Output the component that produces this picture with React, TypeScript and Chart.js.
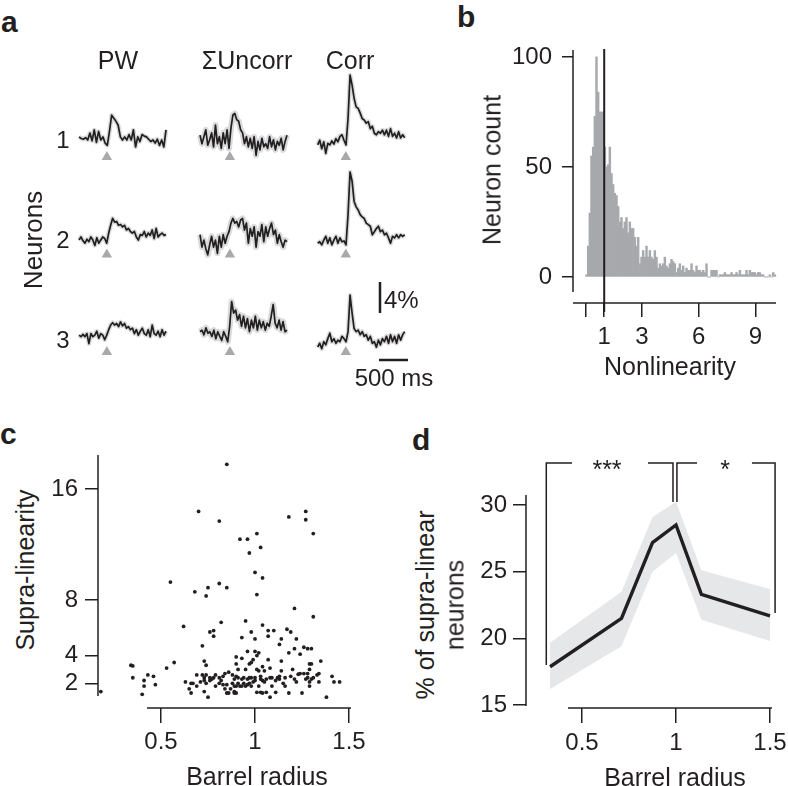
import React, { useEffect, useRef } from "react";
import { Chart, registerables } from "chart.js";

Chart.register(...registerables);

const FONT = '"Liberation Sans", Arial, Helvetica, sans-serif';
const INK = "#231f20";
const GREY_BAR = "#a7a9ac";
const GREY_SEM = "#d9dadc";
const GREY_TRI = "#a7a9ac";
const GREY_BAND = "#e6e7e8";

// ---------------- Panel a : example traces (dF/F, %) ----------------
const traceColumns = ["PW", "ΣUncorr", "Corr"];
const neuronRows = ["1", "2", "3"];
const traceDurationMs = 1500;
const stimulusOnsetMs = [480, 515, 485];
const scaleBarPercent = 4;
const scaleBarMs = 500;

const pw1 = [0.4, 0.2, 0.1, 0.3, 0.0, 0.9, -0.1, 1.3, -0.3, 1.1, 0.0, 0.4, -0.4, -0.7, 1.1, 3.2, 2.8, 2.4, 1.9, 0.4, 0.0, 0.4, 0.0, 0.7, 0.0, 1.3, -0.9, 0.4, -0.2, 0.7, 0.5, 0.4, 0.1, -0.2, 0.0, -0.4, 0.1, -0.7, 0.0, -0.9, 1.3];
const uncorr1 = [0.4, -0.7, 0.2, 1.1, -0.9, -0.2, 0.7, -1.1, 1.7, -0.7, 0.2, -1.3, 0.7, -0.7, 1.1, -1.3, 1.3, 3.0, 3.2, 2.4, 2.2, 1.1, 0.7, -0.7, 0.2, -1.1, 0.0, -1.3, 0.2, -2.2, -0.4, -1.5, 0.0, -1.1, -0.7, -1.3, 0.2, -1.1, -0.2, -1.5, -0.4, -0.9, 0.0, -1.5, -0.4, 0.4];
const corr1 = [-0.2, 0.4, -0.7, 0.2, -1.3, 0.0, -0.2, 0.3, -0.1, 0.6, 0.2, 0.9, 1.1, 0.4, -0.2, 3.2, 8.8, 7.5, 5.8, 4.7, 4.5, 3.9, 3.2, 3.0, 2.6, 2.8, 1.9, 2.2, 1.3, 1.1, 1.5, 1.3, 1.7, 1.1, 1.7, 0.9, 1.9, 0.9, 1.3, 0.7, 1.5, 0.7, 1.1, 0.7];
const pw2 = [0.0, 0.4, -0.1, -0.4, 0.1, -0.2, 0.4, 0.0, -0.7, 0.3, -0.4, 0.0, 0.4, 0.2, -0.4, 0.9, 1.9, 2.8, 2.3, 2.4, 1.9, 2.0, 1.7, 1.9, 1.3, 1.5, 1.1, 0.9, 1.1, 0.4, 0.0, 0.7, 0.6, 1.1, 0.4, 0.9, 0.6, 1.3, 0.2, 1.5, 0.4, 0.7, 0.9, 0.6, 0.7];
const uncorr2 = [0.9, -0.7, 0.2, -0.9, -1.7, -0.4, 0.7, -0.7, 0.2, -1.5, 0.7, -0.7, 0.9, -0.2, 0.7, 1.3, 2.4, 3.0, 2.4, 2.6, 1.9, 2.8, 3.0, 1.5, 2.4, -0.2, 1.7, 0.7, 1.9, -0.7, 1.3, 0.7, 2.2, 0.0, 1.9, 0.7, 1.7, 2.4, 0.9, 1.5, -0.2, 0.9, 0.0, -0.7, 0.2, 0.0];
const corr2 = [0.0, 0.2, -0.2, 0.4, 0.9, 0.0, 0.7, -0.2, 0.4, 0.9, 0.0, 0.7, 0.2, 0.3, -0.2, 3.7, 9.2, 8.0, 5.4, 4.7, 4.3, 3.7, 3.4, 3.2, 2.6, 2.4, 2.2, 1.1, 1.5, 1.9, 2.2, 1.5, 1.7, 1.1, 1.3, 0.7, 0.0, 0.9, 0.7, 1.1, 0.7, 1.1, 0.9, 1.1];
const pw3 = [0.2, 0.0, 0.3, 0.0, 0.4, -0.9, 0.4, 0.0, 0.2, 0.7, -0.2, 0.4, 0.2, -0.4, 0.2, 0.9, 1.5, 1.8, 1.5, 1.7, 1.3, 1.9, 1.4, 1.7, 1.1, 1.3, 0.9, 1.1, 0.4, 0.9, 0.2, 0.7, 1.1, 0.4, 0.2, 0.9, 0.0, 1.5, 0.4, 0.2, 0.7, 0.0, 0.9, 0.2, 0.7];
const uncorr3 = [0.2, 0.4, -0.2, 0.7, 0.0, 0.2, -0.4, 0.4, -0.7, 0.2, -0.4, -0.9, 0.2, -0.4, -1.1, 0.9, 4.1, 2.6, 3.0, 1.7, 2.4, 0.9, 2.2, 0.7, 1.9, 0.2, 1.7, 0.7, 2.2, 0.4, 1.7, 0.7, 1.5, 0.4, 1.3, 0.9, 2.2, 3.7, 1.3, 0.7, 1.7, 0.4, 1.5, 0.2, 0.4];
const corr3 = [-0.7, -0.2, -0.9, 0.0, -0.4, 0.4, 1.1, 0.0, 0.4, -0.2, 0.2, 0.0, 0.7, 0.4, 0.0, 1.3, 6.0, 3.7, 1.7, 1.3, 1.5, 0.9, 1.3, 0.7, 0.9, 0.2, 0.7, -0.2, 0.0, -0.7, 0.2, -0.4, 0.4, 0.0, 0.7, -0.2, 0.9, 0.0, 0.7, -0.2, 0.9, 0.2, 0.9, 1.3];
const tracesByRow = [
  [pw1, uncorr1, corr1],
  [pw2, uncorr2, corr2],
  [pw3, uncorr3, corr3],
];

// ---------------- Panel b : histogram of nonlinearity ----------------
const histBinStart = 0.019;
const histBinWidth = 0.0882;
const histCounts = [1, 14, 29, 55, 59, 73, 100, 84, 75, 75, 75, 59, 50, 51, 59, 47, 42, 38, 37, 32, 25, 27, 22, 25, 27, 20, 25, 22, 22, 18, 14, 18, 6, 9, 12, 9, 14, 9, 12, 9, 8, 12, 9, 4, 6, 5, 6, 9, 5, 4, 6, 8, 7, 6, 2, 4, 6, 3, 5, 2, 4, 3, 3, 6, 3, 2, 5, 3, 3, 2, 3, 2, 6, 0, 0, 3, 3, 3, 3, 0, 1, 1, 1, 2, 1, 1, 1, 2, 1, 1, 2, 1, 3, 1, 1, 1, 3, 1, 3, 2, 2, 2, 1, 2, 2, 1, 1, 0, 0, 0, 1, 0, 2, 1];
const linearityThreshold = 1;
const bYTicks = [0, 50, 100];
const bXTicks = [0, 1, 3, 6, 9];

// ---------------- Panel c : supra-linearity vs barrel radius ----------------
const cRadius = [0.85, 0.70, 1.18, 1.27, 1.27, 0.81, 1.31, 0.92, 0.96, 1.01, 0.97, 1.03, 1.00, 1.04, 0.55, 0.81, 0.85, 0.75, 0.68, 0.74, 1.01, 1.21, 1.31, 0.82, 0.95, 0.62, 1.04, 0.76, 0.78, 0.78, 0.98, 0.93, 1.00, 1.07, 1.10, 1.07, 1.17, 1.19, 1.14, 1.22, 0.72, 1.13, 1.26, 1.28, 1.30, 1.21, 1.18, 1.24, 0.96, 1.00, 1.02, 1.01, 0.93, 0.90, 0.99, 1.07, 1.14, 0.98, 0.97, 1.35, 0.73, 0.74, 0.57, 0.53, 0.34, 0.35, 0.35, 0.43, 0.46, 0.41, 0.41, 0.47, 0.40, 0.18, 0.90, 0.91, 0.95, 1.01, 1.02, 1.04, 1.05, 1.08, 1.14, 1.20, 1.29, 1.30, 1.29, 1.28, 1.26, 1.23, 1.19, 1.16, 1.13, 1.12, 1.11, 1.09, 1.08, 1.06, 1.04, 1.03, 1.03, 1.00, 0.98, 0.97, 0.96, 0.94, 0.93, 0.91, 0.90, 0.89, 0.88, 0.86, 0.84, 0.83, 0.82, 0.81, 0.79, 0.78, 0.76, 0.74, 0.73, 0.72, 0.69, 0.66, 0.63, 0.65, 0.69, 0.71, 0.73, 0.74, 0.76, 0.77, 0.79, 0.81, 0.83, 0.84, 0.85, 0.87, 0.88, 0.89, 0.90, 0.89, 0.90, 0.91, 0.92, 0.93, 0.94, 0.95, 0.96, 0.97, 0.98, 0.99, 1.00, 1.02, 1.03, 1.05, 1.06, 1.08, 1.09, 1.11, 1.13, 1.15, 1.16, 1.18, 1.21, 1.22, 1.24, 1.25, 1.27, 1.28, 1.29, 1.29, 1.30, 1.31, 1.33, 1.34, 1.34, 1.38, 1.41, 1.42, 1.45, 0.75, 0.73, 0.85, 0.86, 0.89, 0.66, 0.67, 1.01, 1.04];
const cSupra = [17.8, 14.4, 14.0, 14.4, 13.8, 13.7, 12.8, 12.4, 12.4, 12.8, 11.4, 11.8, 10.0, 9.6, 9.3, 9.2, 8.9, 8.9, 8.6, 8.3, 8.4, 7.4, 6.8, 6.4, 6.5, 6.1, 6.2, 5.7, 5.8, 5.4, 5.7, 5.3, 5.2, 5.8, 5.8, 5.4, 5.9, 5.7, 5.2, 5.2, 4.7, 4.8, 4.6, 4.5, 4.5, 4.5, 4.2, 4.1, 4.3, 4.3, 4.2, 4.0, 3.8, 3.9, 3.7, 3.7, 3.6, 3.5, 3.4, 3.6, 3.6, 3.3, 3.5, 3.1, 3.3, 3.25, 2.4, 2.6, 2.5, 2.2, 1.8, 1.9, 1.2, 1.4, 3.4, 3.0, 3.0, 3.0, 2.9, 3.2, 2.9, 3.1, 2.9, 3.0, 3.4, 3.4, 3.0, 2.7, 2.7, 2.65, 2.5, 2.4, 2.5, 2.4, 2.2, 2.4, 2.4, 2.3, 2.2, 2.5, 2.3, 2.4, 2.4, 2.4, 2.3, 2.4, 2.3, 2.4, 2.5, 2.3, 2.6, 2.8, 2.7, 2.5, 2.2, 2.4, 2.6, 2.4, 2.4, 2.6, 2.4, 2.6, 2.6, 2.0, 2.1, 1.6, 1.8, 2.1, 2.2, 2.0, 2.2, 2.3, 1.8, 2.0, 1.9, 1.6, 1.9, 1.6, 2.0, 1.4, 1.3, 1.8, 1.8, 2.0, 1.8, 1.8, 2.0, 1.8, 1.9, 2.0, 1.8, 2.1, 2.2, 1.8, 1.35, 2.1, 1.35, 1.0, 1.8, 1.35, 2.3, 2.0, 1.8, 1.3, 2.3, 2.1, 2.7, 1.3, 2.3, 2.4, 2.1, 1.8, 2.3, 2.4, 2.6, 2.7, 2.1, 1.0, 2.5, 2.1, 2.1, 1.0, 1.4, 1.3, 1.3, 1.3, 1.3, 2.0, 1.35, 1.3];
const cYTicks = [2, 4, 8, 16];
const radiusTicks = [0.5, 1, 1.5];

// ---------------- Panel d : % supra-linear neurons vs barrel radius ----------------
const dRadius = [0.33, 0.71, 0.875, 1.0, 1.135, 1.5];
const dPercent = [17.87, 21.5, 27.18, 28.5, 23.3, 21.68];
const dUpper = [19.67, 23.5, 29.1, 30.25, 25.1, 23.7];
const dLower = [16.2, 19.4, 25.0, 26.4, 21.4, 19.8];
const dYTicks = [15, 20, 25, 30];
const bracketLeftX = [0.31, 0.31, 0.447, null, 0.851, 0.984, 0.984];
const bracketLeftY = [18.0, 33.15, 33.15, null, 33.15, 33.15, 30.23];
const bracketRightX = [1.005, 1.005, 1.112, null, 1.404, 1.527, 1.527];
const bracketRightY = [30.23, 33.15, 33.15, null, 33.15, 33.15, 21.9];

// ---------------- layout ----------------
type Box = { left: number; top: number; width: number; height: number };
const A_BOX: Box = { left: 60, top: 50, width: 380, height: 340 };
const A_PX_PER_MS = 0.058;
const A_PX_PER_PCT = 7.75;
const A_COL_X0 = [328, 2414, 4443];
const A_ROW_Y0 = [
  [32.26, 32.48, 31.83],
  [19.35, 19.14, 18.93],
  [6.88, 7.32, 6.23],
];
const A_TRI_Y = [30.06, 17.5, 4.9];
const A_VBAR_X = 5517;
const A_VBAR_Y = 9.94;
const A_HBAR_X = 5500;
const A_HBAR_Y = 3.87;

const B_BOX: Box = { left: 500, top: 30, width: 288, height: 350 };
const C_BOX: Box = { left: 40, top: 430, width: 360, height: 340 };
const D_BOX: Box = { left: 460, top: 430, width: 328, height: 340 };

const axisLinesPlugin = {
  id: "axisLines",
  afterDatasetsDraw(chart: any, _args: any, opts: any) {
    if (!opts) return;
    const { ctx, chartArea, scales } = chart;
    ctx.save();
    ctx.strokeStyle = INK;
    ctx.lineWidth = 1.5;
    ctx.lineCap = "butt";
    if (opts.y) {
      const x = chartArea.left;
      ctx.beginPath();
      ctx.moveTo(x, scales.y.getPixelForValue(opts.y[0]));
      ctx.lineTo(x, scales.y.getPixelForValue(opts.y[1]));
      ctx.stroke();
    }
    if (opts.x) {
      const y = chartArea.bottom;
      ctx.beginPath();
      ctx.moveTo(scales.x.getPixelForValue(opts.x[0]), y);
      ctx.lineTo(scales.x.getPixelForValue(opts.x[1]), y);
      ctx.stroke();
    }
    ctx.restore();
  },
};

function tickFont() {
  return { family: FONT, size: 24 };
}

function xAxis(min: number, max: number, ticks: number[], tickLength: number, padding: number, height: number, label?: (v: number) => string) {
  return {
    type: "linear",
    min,
    max,
    bounds: "data",
    offset: false,
    afterBuildTicks: (s: any) => {
      s.ticks = ticks.map((v) => ({ value: v }));
    },
    afterFit: (s: any) => {
      s.height = height;
      s.paddingLeft = 0;
      s.paddingRight = 0;
      s.paddingTop = 0;
      s.paddingBottom = 0;
    },
    border: { display: false },
    grid: { display: true, offset: false, drawOnChartArea: false, drawTicks: true, tickLength, color: INK, lineWidth: 1.5 },
    ticks: {
      color: INK,
      font: tickFont(),
      padding,
      maxRotation: 0,
      minRotation: 0,
      autoSkip: false,
      callback: (v: any) => (label ? label(Number(v)) : String(v)),
    },
  };
}

function yAxis(min: number, max: number, ticks: number[], tickLength: number, padding: number, width: number) {
  return {
    type: "linear",
    min,
    max,
    bounds: "data",
    offset: false,
    afterBuildTicks: (s: any) => {
      s.ticks = ticks.map((v) => ({ value: v }));
    },
    afterFit: (s: any) => {
      s.width = width;
      s.paddingLeft = 0;
      s.paddingRight = 0;
      s.paddingTop = 0;
      s.paddingBottom = 0;
    },
    border: { display: false },
    grid: { display: true, offset: false, drawOnChartArea: false, drawTicks: true, tickLength, color: INK, lineWidth: 1.5 },
    ticks: { color: INK, font: tickFont(), padding, autoSkip: false, callback: (v: any) => String(v) },
  };
}

function baseOptions(padding: any) {
  return {
    responsive: false,
    maintainAspectRatio: false,
    animation: false,
    events: [],
    devicePixelRatio: 1,
    layout: { padding, autoPadding: false },
    plugins: { legend: { display: false }, tooltip: { enabled: false } },
  };
}

function buildPanelA() {
  const datasets: any[] = [];
  tracesByRow.forEach((row, r) =>
    row.forEach((vals, c) => {
      const n = vals.length;
      const pts = vals.map((v, i) => ({ x: A_COL_X0[c] + (i * traceDurationMs) / (n - 1), y: A_ROW_Y0[r][c] + v }));
      datasets.push({ data: pts, borderColor: INK, borderWidth: 1.7, pointRadius: 0, tension: 0, borderJoinStyle: "round", order: 1 });
      datasets.push({ data: pts, borderColor: GREY_SEM, borderWidth: c === 1 ? 6 : 4.5, pointRadius: 0, tension: 0, borderJoinStyle: "round", order: 2 });
    })
  );
  const tri: any[] = [];
  neuronRows.forEach((_n, r) => traceColumns.forEach((_c, c) => tri.push({ x: A_COL_X0[c] + stimulusOnsetMs[c], y: A_TRI_Y[r] })));
  datasets.push({ data: tri, showLine: false, pointStyle: "triangle", pointRadius: 6, pointBackgroundColor: GREY_TRI, pointBorderWidth: 0, order: 0 });
  datasets.push({ data: [{ x: A_VBAR_X, y: A_VBAR_Y }, { x: A_VBAR_X, y: A_VBAR_Y + scaleBarPercent }], borderColor: INK, borderWidth: 2.5, pointRadius: 0, order: 0 });
  datasets.push({ data: [{ x: A_HBAR_X, y: A_HBAR_Y }, { x: A_HBAR_X + scaleBarMs, y: A_HBAR_Y }], borderColor: INK, borderWidth: 2.5, pointRadius: 0, order: 0 });
  return {
    type: "line",
    data: { datasets },
    options: {
      ...baseOptions(0),
      scales: {
        x: { type: "linear", display: false, bounds: "data", min: 0, max: A_BOX.width / A_PX_PER_MS },
        y: { type: "linear", display: false, bounds: "data", min: 0, max: A_BOX.height / A_PX_PER_PCT },
      },
    },
  };
}

function buildPanelB() {
  const bars = histCounts.map((c, k) => ({ x: histBinStart + histBinWidth * (k + 0.5), y: c }));
  return {
    type: "bar",
    data: {
      datasets: [
        { type: "line", data: [{ x: linearityThreshold, y: 103.6 }, { x: linearityThreshold, y: -15.9 }], borderColor: INK, borderWidth: 2, pointRadius: 0, clip: false, order: 0 },
        { type: "bar", data: bars, backgroundColor: GREY_BAR, borderWidth: 0, barPercentage: 1, categoryPercentage: 1, inflateAmount: 0.4, clip: false, order: 1 },
      ],
    },
    options: {
      ...baseOptions({ left: 0, top: 10, right: 8, bottom: 27 }),
      plugins: { legend: { display: false }, tooltip: { enabled: false }, axisLines: { y: [-6.8, 103.2], x: [-0.6508, 10.09] } },
      scales: {
        x: xAxis(-0.6508, 10.3, bXTicks, 14, 6, 50, (v) => (v === 0 ? "" : String(v))),
        y: yAxis(-11.82, 107.73, bYTicks, 11, 10, 73),
      },
    },
    plugins: [axisLinesPlugin],
  };
}

function buildPanelC() {
  const pts = cRadius.map((x, i) => ({ x, y: cSupra[i] }));
  return {
    type: "scatter",
    data: { datasets: [{ data: pts, pointRadius: 1.9, pointBackgroundColor: INK, pointBorderWidth: 0 }] },
    options: {
      ...baseOptions({ left: 0, top: 10, right: 20, bottom: 12 }),
      plugins: { legend: { display: false }, tooltip: { enabled: false }, axisLines: { y: [1.08, 18.47], x: [0.4255, 1.5106] } },
      scales: {
        x: xAxis(0.1649, 1.6649, radiusTicks, 15, 5, 50),
        y: yAxis(0.2165, 19.553, cYTicks, 13, 7, 58),
      },
    },
    plugins: [axisLinesPlugin],
  };
}

function buildPanelD() {
  const toPts = (xs: (number | null)[], ys: (number | null)[]) => xs.map((x, i) => ({ x: x === null ? NaN : x, y: ys[i] }));
  return {
    type: "line",
    data: {
      datasets: [
        { data: toPts(dRadius, dPercent), borderColor: INK, borderWidth: 3.4, pointRadius: 0, tension: 0, borderJoinStyle: "miter", order: 1 },
        { data: toPts(dRadius, dUpper), borderColor: "rgba(0,0,0,0)", borderWidth: 0, pointRadius: 0, fill: false, order: 3 },
        { data: toPts(dRadius, dLower), borderColor: "rgba(0,0,0,0)", borderWidth: 0, pointRadius: 0, fill: "-1", backgroundColor: GREY_BAND, order: 2 },
        { data: toPts(bracketLeftX, bracketLeftY), borderColor: INK, borderWidth: 1.5, pointRadius: 0, spanGaps: false, clip: false, order: 1 },
        { data: toPts(bracketRightX, bracketRightY), borderColor: INK, borderWidth: 1.5, pointRadius: 0, spanGaps: false, clip: false, order: 1 },
      ],
    },
    options: {
      ...baseOptions({ left: 0, top: 20, right: 3, bottom: 12 }),
      plugins: { legend: { display: false }, tooltip: { enabled: false }, filler: { propagate: false }, axisLines: { y: [14.92, 30.75], x: [0.4255, 1.5106] } },
      scales: {
        x: xAxis(0.2021, 1.5798, radiusTicks, 15, 6, 50),
        y: yAxis(14.775, 34.125, dYTicks, 13, 6, 66),
      },
    },
    plugins: [axisLinesPlugin],
  };
}

function ChartCanvas({ box, build }: { box: Box; build: () => any }) {
  const ref = useRef<HTMLCanvasElement | null>(null);
  useEffect(() => {
    if (!ref.current) return;
    const chart = new Chart(ref.current, build());
    return () => chart.destroy();
  }, []);
  return (
    <canvas
      ref={ref}
      width={box.width}
      height={box.height}
      style={{ position: "absolute", left: box.left, top: box.top, width: box.width, height: box.height }}
    />
  );
}

function Label({ x, y, size = 25, rotate = false, anchor = "center", children }: { x: number; y: number; size?: number; rotate?: boolean; anchor?: string; children: any }) {
  const transform = anchor === "left" ? "translate(0,-50%)" : `translate(-50%,-50%)${rotate ? " rotate(-90deg)" : ""}`;
  return (
    <div
      style={{
        position: "absolute",
        left: x,
        top: y,
        transform,
        fontFamily: FONT,
        fontSize: size,
        lineHeight: 1,
        whiteSpace: "nowrap",
        color: INK,
      }}
    >
      {children}
    </div>
  );
}

function PanelLetter({ x, y, children }: { x: number; y: number; children: any }) {
  return (
    <div style={{ position: "absolute", left: x, top: y, fontFamily: FONT, fontWeight: 700, fontSize: 30, lineHeight: 1, color: INK }}>
      {children}
    </div>
  );
}

export default function App() {
  return (
    <div style={{ position: "absolute", left: 0, top: 0, width: 788, height: 786, background: "#fff", overflow: "hidden" }}>
      <ChartCanvas box={A_BOX} build={buildPanelA} />
      <ChartCanvas box={B_BOX} build={buildPanelB} />
      <ChartCanvas box={C_BOX} build={buildPanelC} />
      <ChartCanvas box={D_BOX} build={buildPanelD} />

      <PanelLetter x={1} y={7}>a</PanelLetter>
      <PanelLetter x={457} y={2}>b</PanelLetter>
      <PanelLetter x={0} y={419}>c</PanelLetter>
      <PanelLetter x={412} y={425}>d</PanelLetter>

      <Label x={118} y={60}>{traceColumns[0]}</Label>
      <Label x={247} y={60}>{traceColumns[1]}</Label>
      <Label x={350} y={60}>{traceColumns[2]}</Label>
      <Label x={63} y={140} size={24}>{neuronRows[0]}</Label>
      <Label x={63} y={240} size={24}>{neuronRows[1]}</Label>
      <Label x={63} y={340} size={24}>{neuronRows[2]}</Label>
      <Label x={33} y={240} size={26} rotate>Neurons</Label>
      <Label x={384} y={300} size={24} anchor="left">{scaleBarPercent}%</Label>
      <Label x={394} y={378} size={24}>{scaleBarMs} ms</Label>

      <Label x={492} y={170} rotate>Neuron count</Label>
      <Label x={670} y={366}>Nonlinearity</Label>

      <Label x={25} y={570} rotate>Supra-linearity</Label>
      <Label x={257} y={776}>Barrel radius</Label>

      <Label x={425} y={605} rotate>% of supra-linear</Label>
      <Label x={455} y={605} rotate>neurons</Label>
      <Label x={675} y={777}>Barrel radius</Label>
      <Label x={607} y={469}>***</Label>
      <Label x={725} y={469}>*</Label>
    </div>
  );
}
